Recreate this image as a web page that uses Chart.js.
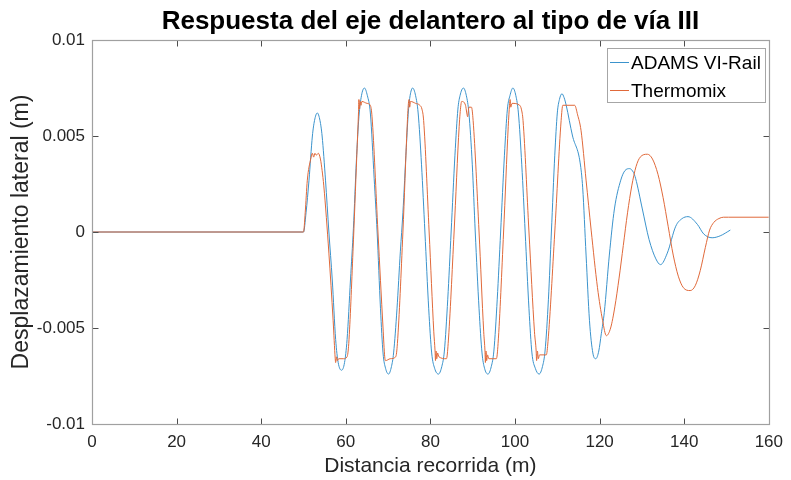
<!DOCTYPE html>
<html>
<head>
<meta charset="utf-8">
<script src="https://cdn.jsdelivr.net/npm/chart.js@4.4.1/dist/chart.umd.min.js"></script>
<style>
  html, body { margin: 0; padding: 0; background: #ffffff; }
  #wrap { width: 791px; height: 480px; }
</style>
</head>
<body>
<div id="wrap"><canvas id="c" width="791" height="480"></canvas></div>
<script>
// Texts
const titleText = 'Respuesta del eje delantero al tipo de vía III';
const xAxisTitle = 'Distancia recorrida (m)';
const yAxisTitle = 'Desplazamiento lateral (m)';
const seriesNames = ['ADAMS VI-Rail', 'Thermomix'];

// Tick values
const xTicks = [0, 20, 40, 60, 80, 100, 120, 140, 160];
const yTicks = [-0.01, -0.005, 0, 0.005, 0.01];

// ADAMS VI-Rail: lateral displacement (m) vs distance (m)
const adamsX = [0, 50.0, 50.6, 51.3, 52.1, 52.6, 53.25, 53.9, 54.4, 55.2, 56.0, 56.8, 57.6, 58.2, 59.0, 59.7, 60.3, 61.1, 61.8, 62.5, 63.1, 63.7, 64.4,
  65.1, 65.8, 66.7, 67.4, 68.2, 68.8, 69.4, 70.1, 70.8, 71.3, 72.1, 72.9, 73.5, 74.3, 74.8, 75.2, 75.8,
  76.5, 77.1, 77.9, 78.7, 79.6, 80.3, 81.0, 81.9, 82.7, 83.3, 84.1, 84.9, 85.8, 86.5, 87.0, 87.8,
  88.5, 89.1, 89.9, 90.6, 91.5, 92.2, 92.8, 93.6, 94.4, 95.0, 95.8, 96.6, 97.5, 98.2, 98.8, 99.5,
  100.2, 100.8, 101.6, 102.4, 103.3, 104.0, 104.8, 105.7, 106.5, 107.1, 107.9, 108.6, 109.4, 110.0, 110.5, 111.1,
  111.6, 112.1, 113.6, 115.4, 116.0, 116.8, 117.6, 118.4, 119.1, 119.8, 120.4, 121.1, 122.3, 123.5, 125.0, 126.0, 127.1,
  128.0, 128.5, 130.1, 131.7, 133.3, 134.4, 136.0, 138.0, 139.5, 140.9, 143.1, 144.6, 146.6, 148.5, 150.9];
const adamsY = [0, 0, 0.0010, 0.0027, 0.0050, 0.0058, 0.0062, 0.0058, 0.0050, 0.0027, 0.0000, -0.0025, -0.0056, -0.0068, -0.0072, -0.0068, -0.0056, -0.0025, 0.0002, 0.0037, 0.0060, 0.0071, 0.0075,
  0.0071, 0.0062, 0.0028, 0.0000, -0.0040, -0.0063, -0.0071, -0.0074, -0.0070, -0.0063, -0.0040, -0.0010, 0.0010, 0.0044, 0.0063, 0.0071, 0.0075,
  0.0071, 0.0062, 0.0035, 0.0000, -0.0040, -0.0063, -0.0071, -0.0074, -0.0070, -0.0062, -0.0035, 0.0000, 0.0040, 0.0064, 0.0071, 0.0075,
  0.0071, 0.0062, 0.0035, 0.0000, -0.0040, -0.0063, -0.0071, -0.0074, -0.0070, -0.0062, -0.0035, 0.0000, 0.0040, 0.0064, 0.0071, 0.0075,
  0.0071, 0.0062, 0.0035, 0.0000, -0.0040, -0.0063, -0.0071, -0.0074, -0.0070, -0.0062, -0.0035, 0.0000, 0.0040, 0.0062, 0.0069, 0.0072,
  0.0070, 0.0066, 0.0050, 0.0036, 0.0023, -0.0012, -0.0046, -0.0063, -0.0066, -0.0062, -0.0053, -0.0042, -0.0012, 0.0012, 0.0027, 0.0032, 0.0033,
  0.0031, 0.0028, 0.0012, -0.0004, -0.0014, -0.0017, -0.0011, 0.0003, 0.0007, 0.0008, 0.0004, -0.0001, -0.0003, -0.0002, 0.0001];

// Thermomix: lateral displacement (m) vs distance (m)
const thermoX = [0, 50.0, 50.4, 50.9, 51.7, 52.1, 52.4, 52.7, 53.0, 53.5, 54.0, 54.4, 54.8, 56.0, 57.0, 57.5, 57.6, 57.8, 58.0, 58.3, 59.5, 60.3,
  60.7, 61.7, 62.6, 63.0, 63.1, 63.25, 63.4, 63.6, 63.8, 65.0, 65.8, 66.2, 67.6, 68.8, 69.2, 69.4, 70.5, 71.8,
  72.2, 73.5, 74.5, 74.8, 74.95, 75.1, 75.3, 76.5, 77.5, 78.0, 78.4, 79.7, 80.8, 81.1, 81.2, 81.35, 81.5, 81.7, 82.0, 83.8,
  84.2, 85.6, 86.8, 87.2, 87.4, 88.3, 88.6, 88.8, 89.1, 89.7, 90.1, 91.5, 92.6, 92.9, 93.0, 93.15, 93.3, 93.5, 93.8, 95.6,
  96.0, 97.3, 98.4, 98.7, 98.85, 99.0, 99.3, 101.1, 101.5, 101.9, 103.3, 104.6, 105.0, 105.1, 105.3, 105.5, 105.8, 107.4,
  107.8, 109.4, 110.9, 111.3, 114.1, 114.8, 115.6, 116.8, 118.0, 119.5, 120.7, 121.6,
  122.6, 123.6, 124.6, 125.6, 126.6, 127.6, 128.6, 129.6, 131.3, 132.5, 133.8, 135.0, 136.2, 137.4, 138.6, 139.8, 141.4,
  142.6, 143.8, 145.0, 146.0, 147.0, 148.2, 149.3, 150.5, 160];
const thermoY = [0, 0, 0.0010, 0.0027, 0.0038, 0.0041, 0.0039, 0.0041, 0.0040, 0.0041, 0.0038, 0.0032, 0.0024, -0.0011, -0.0046, -0.0066, -0.0068, -0.0065, -0.0067, -0.0066, -0.0066, -0.0065,
  -0.0058, -0.0010, 0.0040, 0.0062, 0.0069, 0.0064, 0.0068, 0.0066, 0.0068, 0.0067, 0.0066, 0.0060, 0.0000, -0.0050, -0.0065, -0.0067, -0.0066, -0.0065,
  -0.0058, 0.0000, 0.0055, 0.0067, 0.0069, 0.0065, 0.0068, 0.0067, 0.0066, 0.0064, 0.0058, 0.0000, -0.0052, -0.0062, -0.0067, -0.0062, -0.0066, -0.0063, -0.0065, -0.0066,
  -0.0058, 0.0000, 0.0055, 0.0066, 0.0068, 0.0066, 0.0062, 0.0060, 0.0065, 0.0065, 0.0058, 0.0000, -0.0052, -0.0062, -0.0068, -0.0062, -0.0067, -0.0064, -0.0066, -0.0066,
  -0.0058, 0.0000, 0.0055, 0.0066, 0.0069, 0.0065, 0.0067, 0.0066, 0.0064, 0.0058, 0.0000, -0.0052, -0.0062, -0.0067, -0.0062, -0.0066, -0.0064, -0.0064,
  -0.0057, 0.0000, 0.0058, 0.0066, 0.0066, 0.0061, 0.0053, 0.0027, 0.0001, -0.0029, -0.0046, -0.0054,
  -0.0050, -0.0039, -0.0024, -0.0007, 0.0010, 0.0024, 0.0034, 0.0039, 0.00405, 0.0038, 0.0030, 0.0018, 0.0003, -0.0012, -0.0023, -0.0029, -0.00305,
  -0.0028, -0.0020, -0.0008, 0.0001, 0.0005, 0.0007, 0.00077, 0.00077, 0.00077];

const seriesColors = ['#3b93cc', '#e0693a'];

const toPoints = (xs, ys) => xs.map((x, i) => ({ x: x, y: ys[i] }));

const FONT = '"Liberation Sans", Arial, Helvetica, sans-serif';
Chart.defaults.font.family = FONT;
Chart.defaults.color = '#262626';

// Axes box, inward tick marks, title and legend in the MATLAB style
const matlabFrame = {
  id: 'matlabFrame',
  afterDatasetsDraw(chart) {
    const { ctx, chartArea: a, scales } = chart;
    const L = Math.round(a.left) + 0.5, R = Math.round(a.right) + 0.5;
    const T = Math.round(a.top) + 0.5, B = Math.round(a.bottom) + 0.5;
    ctx.save();
    // ticks
    ctx.strokeStyle = '#4d4d4d';
    ctx.lineWidth = 1;
    ctx.beginPath();
    const tl = 6;
    xTicks.forEach(v => {
      const px = Math.round(scales.x.getPixelForValue(v)) + 0.5;
      ctx.moveTo(px, B); ctx.lineTo(px, B - tl);
      ctx.moveTo(px, T); ctx.lineTo(px, T + tl);
    });
    yTicks.forEach(v => {
      const py = Math.round(scales.y.getPixelForValue(v)) + 0.5;
      ctx.moveTo(L, py); ctx.lineTo(L + tl, py);
      ctx.moveTo(R, py); ctx.lineTo(R - tl, py);
    });
    ctx.stroke();
    // box
    ctx.strokeStyle = '#a0a0a0';
    ctx.lineWidth = 1.2;
    ctx.strokeRect(L, T, R - L, B - T);

    // legend
    const lx = 607.5, ly = 48.5, lw = 158, lh = 54;
    ctx.fillStyle = '#ffffff';
    ctx.fillRect(lx, ly, lw, lh);
    ctx.strokeStyle = '#a6a6a6';
    ctx.lineWidth = 1;
    ctx.strokeRect(lx, ly, lw, lh);
    ctx.font = '19px ' + FONT;
    ctx.textBaseline = 'alphabetic';
    ctx.textAlign = 'left';
    const rows = [62, 89.5];
    seriesNames.forEach((name, i) => {
      ctx.strokeStyle = seriesColors[i];
      ctx.beginPath();
      ctx.moveTo(610, Math.round(rows[i]) + 0.5);
      ctx.lineTo(629, Math.round(rows[i]) + 0.5);
      ctx.stroke();
      ctx.fillStyle = '#000000';
      ctx.fillText(name, 631, rows[i] + 7);
    });

    // title
    ctx.font = 'bold 26px ' + FONT;
    ctx.fillStyle = '#000000';
    ctx.textAlign = 'center';
    ctx.fillText(titleText, (a.left + a.right) / 2, 29);
    ctx.restore();
  }
};

new Chart(document.getElementById('c'), {
  type: 'line',
  data: {
    datasets: [
      {
        label: seriesNames[0],
        data: toPoints(adamsX, adamsY),
        borderColor: seriesColors[0],
        borderWidth: 1,
        pointRadius: 0,
        cubicInterpolationMode: 'monotone',
        order: 1
      },
      {
        label: seriesNames[1],
        data: toPoints(thermoX, thermoY),
        borderColor: seriesColors[1],
        borderWidth: 1,
        pointRadius: 0,
        cubicInterpolationMode: 'monotone',
        order: 0
      }
    ]
  },
  options: {
    responsive: false,
    animation: false,
    devicePixelRatio: 1,
    layout: { padding: { left: 0, right: 19, top: 40, bottom: 0 } },
    plugins: {
      legend: { display: false },
      tooltip: { enabled: false },
      title: { display: false }
    },
    scales: {
      x: {
        type: 'linear',
        min: 0,
        max: 160,
        afterBuildTicks: s => { s.ticks = xTicks.map(v => ({ value: v })); },
        afterFit: s => { s.height = 56; },
        grid: { display: false, drawTicks: false },
        border: { display: false },
        ticks: { font: { size: 17 }, color: '#262626', padding: 8, maxRotation: 0, callback: v => String(v) },
        title: { display: true, text: xAxisTitle, font: { size: 21 }, color: '#262626', padding: { top: 0, bottom: 1 } }
      },
      y: {
        type: 'linear',
        min: -0.01,
        max: 0.01,
        afterBuildTicks: s => { s.ticks = yTicks.map(v => ({ value: v })); },
        afterFit: s => { s.width = 92; },
        grid: { display: false, drawTicks: false },
        border: { display: false },
        ticks: { font: { size: 17 }, color: '#262626', padding: 7, callback: v => String(v) },
        title: { display: true, text: yAxisTitle, font: { size: 23 }, color: '#262626', padding: { top: 8, bottom: 0 } }
      }
    }
  },
  plugins: [matlabFrame]
});
</script>
</body>
</html>
